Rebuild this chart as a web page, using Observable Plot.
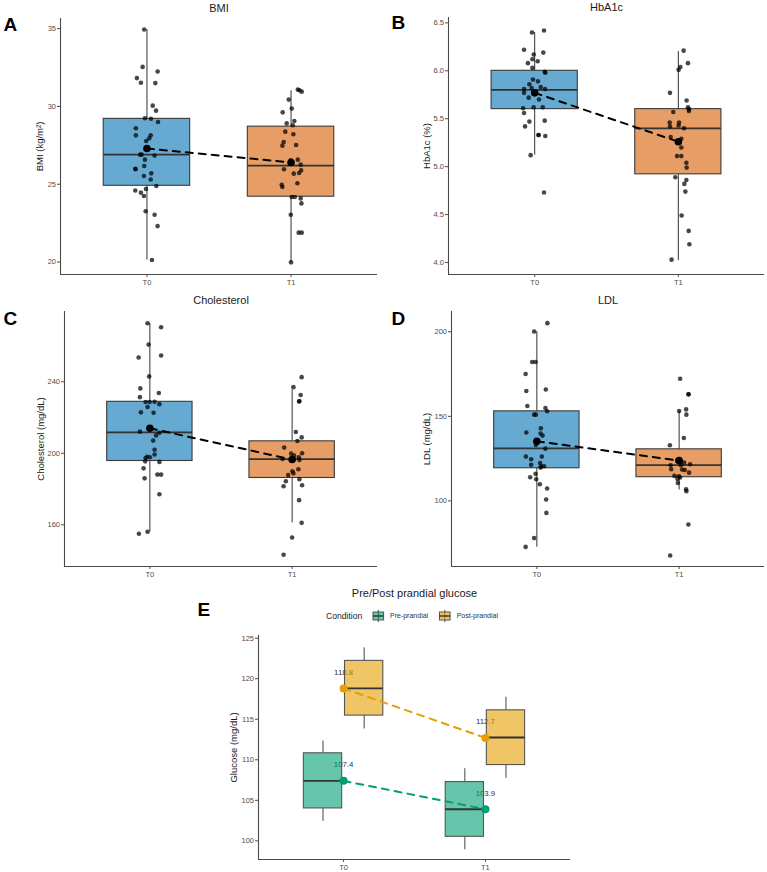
<!DOCTYPE html>
<html>
<head>
<meta charset="utf-8">
<script src="https://cdn.jsdelivr.net/npm/d3@7"></script>
<script src="https://cdn.jsdelivr.net/npm/@observablehq/plot@0.6"></script>
<style>
  body { margin: 0; background: #fff; }
  #chart { position: relative; width: 767px; height: 872px; font-family: 'Liberation Sans', Arial, sans-serif; }
  .panel { position: absolute; }
</style>
</head>
<body>
<div id="chart"></div>
<script>
// ---- categories ----
const times = ["T0", "T1"];
const conditions = ["Pre-prandial", "Post-prandial"];

// ---- BMI (kg/m²): individual values and horizontal jitter (category units) ----
const bmiT0 = [34.94, 32.54, 32.24, 31.82, 31.52, 31.50, 30.05, 29.73, 29.24, 29.21, 29.00, 28.60, 28.14, 28.14, 27.78, 27.95, 26.90, 26.90, 26.84, 26.58, 26.17, 26.00, 25.96, 25.70, 25.53, 25.30, 24.89, 24.69, 24.60, 24.46, 24.24, 23.26, 23.04, 22.31, 20.13];
const bmiT0Jitter = [-0.019, -0.030, 0.074, -0.070, -0.042, 0.058, 0.040, 0.063, -0.014, 0.028, 0.077, -0.077, -0.077, 0.026, -0.005, 0.016, -0.047, -0.037, 0.053, -0.014, -0.019, -0.081, -0.079, 0.030, -0.021, 0.026, 0.065, -0.007, -0.081, -0.042, -0.021, -0.009, 0.053, 0.074, 0.035];
const bmiT1 = [31.08, 30.95, 31.04, 30.44, 29.86, 29.62, 29.06, 28.91, 28.79, 28.38, 28.21, 27.71, 27.48, 27.52, 26.54, 26.58, 26.39, 26.26, 25.96, 25.89, 25.72, 25.68, 25.06, 24.97, 24.82, 24.18, 24.18, 24.09, 23.77, 23.04, 21.89, 21.89, 19.98];
const bmiT1Jitter = [0.047, 0.074, 0.058, -0.016, 0.005, -0.058, 0.023, -0.030, 0.012, -0.040, 0.016, -0.051, -0.060, 0.035, -0.002, 0.047, 0.007, 0.067, -0.049, 0.070, 0.056, 0.019, 0.044, -0.065, -0.060, 0.005, 0.026, 0.067, 0.072, -0.002, 0.053, 0.074, 0.000];
// box statistics: [lower whisker, Q1, median, Q3, upper whisker]
const bmiBox = [[20.13, 24.9, 26.9, 29.2, 34.94], [19.98, 24.2, 26.2, 28.7, 31.0]];
const bmiMeans = [27.3, 26.4];

// ---- HbA1c (%) ----
const hbaT0 = [6.40, 6.42, 6.22, 6.17, 6.19, 6.12, 6.10, 6.08, 6.03, 5.99, 5.98, 5.91, 5.89, 5.86, 5.81, 5.83, 5.81, 5.82, 5.77, 5.77, 5.72, 5.70, 5.62, 5.62, 5.61, 5.56, 5.47, 5.48, 5.42, 5.33, 5.33, 5.32, 5.12, 4.73];
const hbaT0Jitter = [-0.019, 0.065, -0.074, -0.007, 0.060, -0.016, 0.021, -0.047, -0.016, 0.070, 0.074, -0.012, 0.023, -0.037, -0.074, 0.042, 0.072, -0.021, -0.074, -0.007, -0.042, 0.030, -0.007, 0.056, -0.081, -0.074, -0.037, 0.070, -0.067, 0.026, 0.028, 0.074, -0.028, 0.065];
const hbaT1 = [6.21, 6.04, 6.01, 6.08, 5.77, 5.69, 5.62, 5.60, 5.58, 5.57, 5.46, 5.46, 5.42, 5.43, 5.40, 5.31, 5.29, 5.20, 5.11, 5.11, 5.04, 4.99, 4.89, 4.86, 4.82, 4.74, 4.49, 4.33, 4.19, 4.03];
const hbaT1Jitter = [0.037, 0.014, 0.002, 0.067, -0.058, 0.058, 0.067, 0.074, 0.074, -0.035, -0.060, 0.005, -0.058, 0.002, 0.040, -0.053, 0.021, 0.021, -0.009, 0.021, 0.056, 0.058, -0.021, 0.056, 0.042, 0.049, 0.023, 0.072, 0.077, -0.047];
const hbaBox = [[5.12, 5.60, 5.80, 6.00, 6.40], [4.02, 4.92, 5.40, 5.60, 6.20]];
const hbaMeans = [5.77, 5.26];

// ---- Cholesterol (mg/dL) ----
const cholT0 = [272.7, 270.5, 260.8, 253.6, 254.7, 243.0, 236.3, 231.4, 233.7, 228.7, 228.7, 228.8, 227.5, 225.9, 222.9, 222.7, 212.1, 211.5, 210.0, 207.1, 202.0, 199.3, 198.1, 197.8, 197.4, 195.5, 195.2, 191.6, 188.1, 188.1, 186.0, 177.1, 156.1, 155.0];
const cholT0Jitter = [-0.016, 0.079, -0.009, -0.079, 0.079, -0.005, -0.067, -0.070, 0.063, -0.030, -0.002, 0.033, 0.067, -0.016, -0.063, 0.026, -0.070, 0.067, 0.044, 0.023, 0.033, 0.033, -0.019, 0.000, -0.030, -0.033, 0.067, -0.044, 0.053, 0.079, -0.037, 0.067, -0.016, -0.077];
const cholT1 = [242.6, 237.0, 232.6, 229.0, 229.2, 211.9, 208.9, 206.9, 203.2, 200.0, 199.8, 198.7, 196.8, 197.2, 197.8, 196.3, 191.1, 190.0, 188.8, 187.9, 185.5, 184.4, 181.6, 182.1, 173.8, 161.1, 152.9, 143.3];
const cholT1Jitter = [0.067, 0.009, 0.060, 0.049, 0.051, 0.026, 0.067, 0.037, -0.056, 0.070, -0.007, 0.014, -0.067, 0.000, 0.047, 0.051, 0.044, 0.002, 0.009, -0.028, 0.051, -0.044, -0.060, 0.070, 0.049, 0.067, 0.000, -0.060];
const cholBox = [[156.1, 195.7, 211.7, 228.8, 272.6], [161.1, 186.2, 196.8, 206.7, 235.5]];
const cholMeans = [214.0, 196.5];

// ---- LDL (mg/dL) ----
const ldlT0 = [200.2, 205.1, 182.1, 182.1, 175.0, 165.9, 165.0, 156.1, 154.9, 153.0, 151.0, 151.0, 140.4, 142.9, 139.8, 138.6, 135.6, 133.1, 130.9, 126.2, 126.2, 124.6, 122.4, 121.3, 120.5, 120.5, 119.7, 116.0, 114.0, 112.8, 109.8, 107.3, 100.8, 92.9, 78.0, 72.8];
const ldlT0Jitter = [-0.019, 0.074, -0.033, -0.009, -0.079, 0.063, -0.074, -0.067, 0.060, 0.072, -0.019, -0.007, -0.074, 0.028, 0.026, 0.040, -0.002, -0.007, 0.060, -0.077, 0.035, -0.040, 0.023, -0.040, 0.030, 0.051, 0.026, -0.009, -0.047, -0.005, 0.021, 0.072, 0.065, 0.067, -0.019, -0.079];
const ldlT1 = [172.2, 163.0, 163.1, 154.1, 153.1, 151.0, 137.2, 132.9, 123.8, 123.2, 122.6, 121.7, 121.1, 121.1, 118.7, 118.5, 118.3, 116.7, 114.8, 114.6, 113.0, 113.8, 110.6, 106.9, 105.7, 86.0, 67.7];
const ldlT1Jitter = [0.007, 0.065, 0.067, 0.049, 0.000, 0.051, 0.033, -0.065, -0.014, 0.009, 0.035, 0.077, -0.060, 0.012, -0.056, 0.021, 0.040, 0.070, -0.033, -0.002, -0.012, 0.007, -0.009, 0.049, 0.051, 0.065, -0.063];
const ldlBox = [[72.6, 119.3, 131.1, 152.95, 200.0], [106.5, 114.0, 121.1, 130.5, 153.1]];
const ldlMeans = [135.2, 123.8];

// ---- Pre/Post prandial glucose (mg/dL), box statistics per time point ----
const preBox = [[102.4, 104.0, 107.4, 110.8, 112.3], [98.9, 100.5, 103.9, 107.25, 108.9]];
const postBox = [[113.8, 115.45, 118.8, 122.2, 123.8], [107.7, 109.35, 112.75, 116.1, 117.7]];
const preMeans = [107.4, 103.9];
const postMeans = [118.8, 112.7];

// ---- shared look ----
const FONT = "'Liberation Sans', Arial, Helvetica, sans-serif";
const timeColors = ["#0072B2", "#D55E00"];
const condColors = ["#009E73", "#E69F00"];
const chart = document.getElementById("chart");

function place(node, left, top) {
  const div = document.createElement("div");
  div.className = "panel";
  div.style.left = left + "px";
  div.style.top = top + "px";
  div.appendChild(node);
  chart.appendChild(div);
}

function toBoxRows(stats, keys) {
  return stats.map(([lo, q1, med, q3, hi], i) => ({key: keys[i], x: i + 1, lo, q1, med, q3, hi}));
}

function frameMarks(cfg) {
  return [
    Plot.ruleX([0.4], {stroke: "#4a4a4a", strokeWidth: 1.1}),
    Plot.ruleY([cfg.domain[0]], {stroke: "#4a4a4a", strokeWidth: 1.1}),
    Plot.axisY({ticks: cfg.ticks, tickFormat: cfg.fmt, tickSize: 3, tickPadding: 1.5, label: null, fontSize: 7.5}),
    Plot.axisX({ticks: [1, 2], tickFormat: d => times[d - 1], tickSize: 3, tickPadding: 2, label: null, fontSize: 7.5}),
    Plot.text([cfg.title], {frameAnchor: "top", dy: cfg.titleDy, lineAnchor: "middle", fontSize: 11, fill: "#1a1a1a"}),
    Plot.text([cfg.letter], {frameAnchor: "top-left", dx: cfg.letterDx, dy: cfg.letterDy, textAnchor: "start", lineAnchor: "middle", fontSize: 19, fontWeight: "bold", fill: "#000"}),
    Plot.text([cfg.ylabel], {frameAnchor: "left", dx: cfg.ylabelDx, rotate: -90, textAnchor: "middle", lineAnchor: "middle", fontSize: 9.5, fill: "#1a1a1a"})
  ];
}

function boxPanel(cfg) {
  const boxes = toBoxRows(cfg.box, times);
  const pts = [
    ...cfg.t0.map((v, i) => ({x: 1 + cfg.j0[i], v})),
    ...cfg.t1.map((v, i) => ({x: 2 + cfg.j1[i], v}))
  ];
  const means = cfg.means.map((m, i) => ({x: i + 1, m}));
  const half = 0.3;
  const svg = Plot.plot({
    width: cfg.width, height: cfg.height,
    marginLeft: cfg.m[0], marginRight: cfg.m[1], marginTop: cfg.m[2], marginBottom: cfg.m[3],
    x: {domain: [0.4, 2.6]},
    y: {domain: cfg.domain},
    color: {domain: times, range: timeColors},
    style: {fontFamily: FONT, fontSize: "7.5px", color: "#4d4d4d", background: "transparent", overflow: "visible"},
    marks: [
      Plot.ruleX(boxes, {x: "x", y1: "lo", y2: "q1", stroke: "#333", strokeWidth: 1}),
      Plot.ruleX(boxes, {x: "x", y1: "q3", y2: "hi", stroke: "#333", strokeWidth: 1}),
      Plot.rect(boxes, {x1: d => d.x - half, x2: d => d.x + half, y1: "q1", y2: "q3", fill: "key", fillOpacity: 0.6, stroke: "#3a3a3a", strokeWidth: 1.1}),
      Plot.ruleY(boxes, {y: "med", x1: d => d.x - half, x2: d => d.x + half, stroke: "#333", strokeWidth: 1.8}),
      Plot.dot(pts, {x: "x", y: "v", r: 2.3, fill: "#000", fillOpacity: 0.72}),
      Plot.line(means, {x: "x", y: "m", stroke: "#000", strokeWidth: 2, strokeDasharray: "7,6"}),
      Plot.dot(means, {x: "x", y: "m", r: 3.8, fill: "#000"}),
      ...frameMarks(cfg)
    ]
  });
  place(svg, cfg.left, cfg.top);
}

boxPanel({
  left: 0, top: 0, width: 384, height: 290, m: [60, 7, 18, 16],
  domain: [19.2, 35.65], ticks: [20, 25, 30, 35], fmt: d => d,
  title: "BMI", titleDy: -10.5, letter: "A", letterDx: -57, letterDy: 6,
  ylabel: "BMI (kg/m²)", ylabelDx: -21,
  t0: bmiT0, j0: bmiT0Jitter, t1: bmiT1, j1: bmiT1Jitter, box: bmiBox, means: bmiMeans
});
boxPanel({
  left: 384, top: 0, width: 383, height: 290, m: [64, 3, 17, 16],
  domain: [3.875, 6.556], ticks: [4, 4.5, 5, 5.5, 6, 6.5], fmt: d3.format(".1f"),
  title: "HbA1c", titleDy: -9.7, letter: "B", letterDx: -57, letterDy: 5.5,
  ylabel: "HbA1c (%)", ylabelDx: -21.5,
  t0: hbaT0, j0: hbaT0Jitter, t1: hbaT1, j1: hbaT1Jitter, box: hbaBox, means: hbaMeans
});
boxPanel({
  left: 0, top: 290, width: 384, height: 290, m: [64, 7, 21, 14],
  domain: [136.7, 279.3], ticks: [160, 200, 240], fmt: d => d,
  title: "Cholesterol", titleDy: -11, letter: "C", letterDx: -61, letterDy: 7,
  ylabel: "Cholesterol (mg/dL)", ylabelDx: -24,
  t0: cholT0, j0: cholT0Jitter, t1: cholT1, j1: cholT1Jitter, box: cholBox, means: cholMeans
});
boxPanel({
  left: 384, top: 290, width: 383, height: 290, m: [67, 3, 21, 14],
  domain: [61.2, 212.0], ticks: [100, 150, 200], fmt: d => d,
  title: "LDL", titleDy: -11, letter: "D", letterDx: -60, letterDy: 7,
  ylabel: "LDL (mg/dL)", ylabelDx: -25,
  t0: ldlT0, j0: ldlT0Jitter, t1: ldlT1, j1: ldlT1Jitter, box: ldlBox, means: ldlMeans
});

// ---- Panel E: glucose by condition, dodged boxes with mean trajectories ----
(function glucosePanel() {
  const dodge = 0.145, half = 0.135;
  const boxes = [
    ...toBoxRows(preBox, [conditions[0], conditions[0]]).map(d => ({...d, cx: d.x - dodge})),
    ...toBoxRows(postBox, [conditions[1], conditions[1]]).map(d => ({...d, cx: d.x + dodge}))
  ];
  const means = [
    ...preMeans.map((m, i) => ({cond: conditions[0], x: i + 1, m})),
    ...postMeans.map((m, i) => ({cond: conditions[1], x: i + 1, m}))
  ];
  const cfg = {
    domain: [97.7, 125.33], ticks: [100, 105, 110, 115, 120, 125], fmt: d => d,
    title: "Pre/Post prandial glucose", titleDy: -42, letter: "E", letterDx: -61, letterDy: -26,
    ylabel: "Glucose (mg/dL)", ylabelDx: -24.5
  };
  const svg = Plot.plot({
    width: 400, height: 292, marginLeft: 68, marginRight: 20, marginTop: 55, marginBottom: 13,
    x: {domain: [0.4, 2.6]},
    y: {domain: cfg.domain},
    color: {domain: conditions, range: condColors},
    style: {fontFamily: FONT, fontSize: "7.5px", color: "#4d4d4d", background: "transparent", overflow: "visible"},
    marks: [
      Plot.text(means, {x: "x", y: "m", text: d => d.m.toFixed(1), dy: -16, fontSize: 7.8, fill: "#333"}),
      Plot.ruleX(boxes, {x: "cx", y1: "lo", y2: "q1", stroke: "#444", strokeWidth: 1}),
      Plot.ruleX(boxes, {x: "cx", y1: "q3", y2: "hi", stroke: "#444", strokeWidth: 1}),
      Plot.rect(boxes, {x1: d => d.cx - half, x2: d => d.cx + half, y1: "q1", y2: "q3", fill: "key", fillOpacity: 0.6, stroke: "#555", strokeWidth: 1.1}),
      Plot.ruleY(boxes, {y: "med", x1: d => d.cx - half, x2: d => d.cx + half, stroke: "#333", strokeWidth: 1.8}),
      Plot.line(means, {x: "x", y: "m", z: "cond", stroke: "cond", strokeWidth: 2, strokeDasharray: "7,6"}),
      Plot.dot(means, {x: "x", y: "m", r: 4, fill: "cond"}),
      ...frameMarks(cfg)
    ]
  });
  place(svg, 190, 580);

  // legend: boxplot key glyphs
  const lg = d3.create("svg").attr("width", 200).attr("height", 22)
    .style("font-family", FONT).style("overflow", "visible");
  lg.append("text").attr("x", 6).attr("y", 11).attr("dy", "0.35em")
    .attr("font-size", 8.6).attr("fill", "#1a1a1a").text("Condition");
  const items = [{x: 53, label: conditions[0], color: condColors[0], tx: 70},
                 {x: 119.5, label: conditions[1], color: condColors[1], tx: 136.7}];
  for (const it of items) {
    const g = lg.append("g");
    g.append("line").attr("x1", it.x + 5.3).attr("x2", it.x + 5.3).attr("y1", 5).attr("y2", 17).attr("stroke", "#444");
    g.append("rect").attr("x", it.x).attr("y", 7).attr("width", 10.6).attr("height", 8)
      .attr("fill", it.color).attr("fill-opacity", 0.6).attr("stroke", "#555").attr("stroke-width", 1);
    g.append("line").attr("x1", it.x).attr("x2", it.x + 10.6).attr("y1", 11).attr("y2", 11).attr("stroke", "#333").attr("stroke-width", 1.4);
    lg.append("text").attr("x", it.tx).attr("y", 11).attr("dy", "0.35em")
      .attr("font-size", 7).attr("fill", "#333").text(it.label);
  }
  place(lg.node(), 320, 605);
})();
</script>
</body>
</html>
